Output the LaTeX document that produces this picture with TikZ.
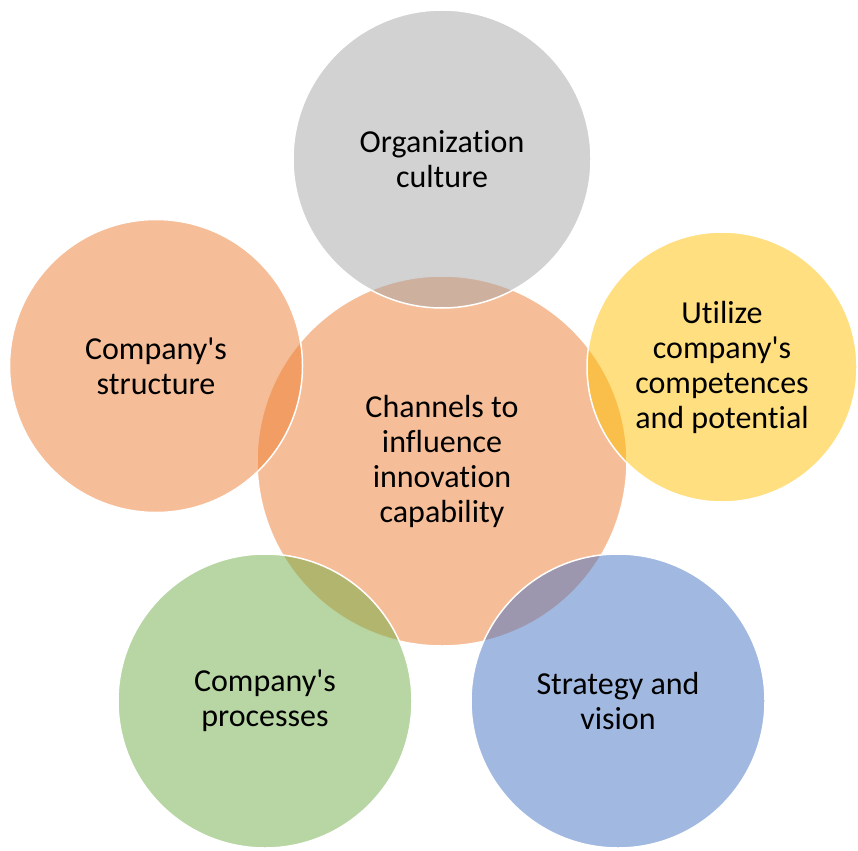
\documentclass[tikz,border=0pt]{standalone}
\usepackage{fontspec}
\setmainfont{Carlito}[Ligatures={NoCommon}]

\definecolor{accentorange}{HTML}{ED7D31}
\definecolor{accentgray}{HTML}{A5A5A5}
\definecolor{accentgold}{HTML}{FFC000}
\definecolor{accentgreen}{HTML}{70AD47}
\definecolor{accentblue}{HTML}{4472C4}

\newcommand{\apos}{\textquotesingle} % straight apostrophe

\begin{document}
\begin{tikzpicture}[
            x = 1pt, y = -1pt, % pixel grid, y grows downward
            every node/.style = {font = \fontsize{32}{35}\selectfont},
            semithick % line style
        ]

        \tikzstyle{channel}=[
            circle,
            draw = white,
            line width = 1.5pt,
            fill opacity = 0.5, % overlaps show through
            text opacity = 1,
            align = center,
            inner sep = 0pt
        ]

    \useasboundingbox (0,0) rectangle (858,850);

    % hub first, the outer circles lie on top of it
    \node[channel, fill = accentorange, minimum size = 370pt] (hub) at (442,461) {Channels to\\influence\\innovation\\capability};

    \node[channel, fill = accentgray, minimum size = 298pt] (culture) at (442,159) {Organization\\culture};
    \node[channel, fill = accentgold, minimum size = 270pt] (utilize) at (722,367) {Utilize\\company\apos s\\competences\\and potential};
    \node[channel, fill = accentblue, minimum size = 294pt] (strategy) at (618,701) {Strategy and\\vision};
    \node[channel, fill = accentgreen, minimum size = 294pt] (processes) at (265,701) {Company\apos s\\processes};
    \node[channel, fill = accentorange, minimum size = 293pt] (structure) at (156,366) {Company\apos s\\structure};

    \end{tikzpicture}
\end{document}
